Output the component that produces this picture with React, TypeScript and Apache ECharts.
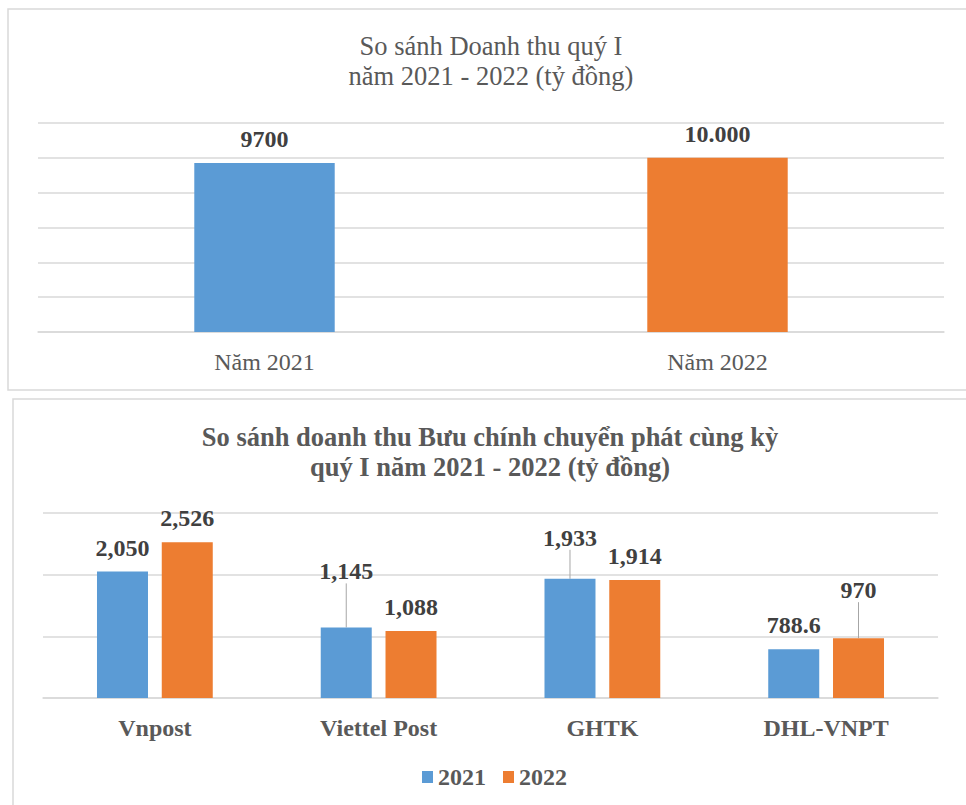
import React, { useEffect, useRef } from "react";
import * as echarts from "echarts";

const topTitle = "So sánh Doanh thu quý I\nnăm 2021 - 2022 (tỷ đồng)";
const topCategories = ["Năm 2021", "Năm 2022"];
const topValues = [9700, 10000];
const topValueLabels = ["9700", "10.000"];
const topColors = ["#5B9BD5", "#ED7D31"];
const topAxisMax = 12000;
const topAxisInterval = 2000;

const bottomTitle = "So sánh doanh thu Bưu chính chuyển phát cùng kỳ\nquý I năm 2021 - 2022 (tỷ đồng)";
const companies = ["Vnpost", "Viettel Post", "GHTK", "DHL-VNPT"];
const seriesNames = ["2021", "2022"];
const values2021 = [2050, 1145, 1933, 788.6];
const values2022 = [2526, 1088, 1914, 970];
const bottomAxisMax = 3000;
const bottomAxisInterval = 1000;

// label lifts (px) for labels placed away from their bars with a leader line
const lift2021 = [0, 32, 17, 0];
const lift2022 = [0, 0, 0, 24];

const FONT = "'Liberation Serif', 'Times New Roman', serif";
const GRID_COLOR = "#d9d9d9";
const TEXT_COLOR = "#595959";
const LABEL_COLOR = "#404040";

const fmt = (v: number) => v.toLocaleString("en-US");

export default function App() {
  const ref = useRef<HTMLDivElement>(null);

  useEffect(() => {
    if (!ref.current) return;
    const chart = echarts.init(ref.current, undefined, { renderer: "svg" });

    const makeBottomData = (vals: number[], lifts: number[]) =>
      vals.map((v, i) =>
        lifts[i] > 0
          ? {
              value: v,
              labelLine: { show: true, lineStyle: { color: "#a6a6a6", width: 1 } },
            }
          : { value: v }
      );

    const bottomLabel = {
      show: true,
      position: "top",
      distance: 12,
      fontFamily: FONT,
      fontSize: 24,
      fontWeight: "bold",
      color: LABEL_COLOR,
      formatter: (p: any) => fmt(p.value),
    };

    chart.setOption({
      animation: false,
      backgroundColor: "#ffffff",
      textStyle: { fontFamily: FONT },
      graphic: [
        {
          type: "rect",
          shape: { x: 8, y: 9, width: 975, height: 381 },
          style: { fill: "none", stroke: GRID_COLOR, lineWidth: 1.5 },
          silent: true,
        },
        {
          type: "rect",
          shape: { x: 13, y: 399, width: 975, height: 430 },
          style: { fill: "none", stroke: GRID_COLOR, lineWidth: 1.5 },
          silent: true,
        },
      ],
      title: [
        {
          text: topTitle,
          left: 491,
          top: 31,
          textAlign: "center",
          padding: 0,
          textStyle: {
            fontFamily: FONT,
            fontSize: 26.5,
            fontWeight: "normal",
            color: TEXT_COLOR,
            lineHeight: 30,
          },
        },
        {
          text: bottomTitle,
          left: 490,
          top: 422,
          textAlign: "center",
          padding: 0,
          textStyle: {
            fontFamily: FONT,
            fontSize: 26.5,
            fontWeight: "bold",
            color: TEXT_COLOR,
            lineHeight: 30,
          },
        },
      ],
      legend: {
        data: seriesNames,
        left: 422,
        top: 765,
        padding: 0,
        icon: "rect",
        itemWidth: 11,
        itemHeight: 12,
        itemGap: 17,
        textStyle: {
          fontFamily: FONT,
          fontSize: 24,
          fontWeight: "bold",
          color: TEXT_COLOR,
        },
      },
      grid: [
        { left: 38, right: 22, top: 123, height: 209, containLabel: false },
        { left: 43, right: 28, top: 513, height: 185, containLabel: false },
      ],
      xAxis: [
        {
          type: "category",
          gridIndex: 0,
          data: topCategories,
          axisLine: { show: true, lineStyle: { color: GRID_COLOR, width: 1.5 } },
          axisTick: { show: false },
          axisLabel: {
            margin: 18,
            fontFamily: FONT,
            fontSize: 24,
            color: TEXT_COLOR,
          },
        },
        {
          type: "category",
          gridIndex: 1,
          data: companies,
          axisLine: { show: true, lineStyle: { color: GRID_COLOR, width: 1.5 } },
          axisTick: { show: false },
          axisLabel: {
            margin: 18,
            fontFamily: FONT,
            fontSize: 24,
            fontWeight: "bold",
            color: TEXT_COLOR,
          },
        },
      ],
      yAxis: [
        {
          type: "value",
          gridIndex: 0,
          min: 0,
          max: topAxisMax,
          interval: topAxisInterval,
          axisLine: { show: false },
          axisTick: { show: false },
          axisLabel: { show: false },
          splitLine: { lineStyle: { color: GRID_COLOR, width: 1.5 } },
        },
        {
          type: "value",
          gridIndex: 1,
          min: 0,
          max: bottomAxisMax,
          interval: bottomAxisInterval,
          axisLine: { show: false },
          axisTick: { show: false },
          axisLabel: { show: false },
          splitLine: { lineStyle: { color: GRID_COLOR, width: 1.5 } },
        },
      ],
      series: [
        {
          type: "bar",
          name: "top",
          xAxisIndex: 0,
          yAxisIndex: 0,
          barWidth: "31%",
          data: topValues.map((v, i) => ({
            value: v,
            itemStyle: { color: topColors[i] },
          })),
          label: {
            show: true,
            position: "top",
            distance: 12,
            fontFamily: FONT,
            fontSize: 24,
            fontWeight: "bold",
            color: LABEL_COLOR,
            formatter: (p: any) => topValueLabels[p.dataIndex],
          },
        },
        {
          type: "bar",
          name: seriesNames[0],
          xAxisIndex: 1,
          yAxisIndex: 1,
          barWidth: 51,
          barGap: "27%",
          itemStyle: { color: "#5B9BD5" },
          data: makeBottomData(values2021, lift2021),
          label: bottomLabel,
          labelLayout: (p: any) =>
            lift2021[p.dataIndex] > 0 ? { dy: -lift2021[p.dataIndex] } : {},
        },
        {
          type: "bar",
          name: seriesNames[1],
          xAxisIndex: 1,
          yAxisIndex: 1,
          barWidth: 51,
          barGap: "27%",
          itemStyle: { color: "#ED7D31" },
          data: makeBottomData(values2022, lift2022),
          label: bottomLabel,
          labelLayout: (p: any) =>
            lift2022[p.dataIndex] > 0 ? { dy: -lift2022[p.dataIndex] } : {},
        },
      ],
    });

    return () => chart.dispose();
  }, []);

  return (
    <div
      ref={ref}
      style={{
        position: "absolute",
        left: 0,
        top: 0,
        width: 966,
        height: 805,
        background: "#ffffff",
      }}
    />
  );
}
